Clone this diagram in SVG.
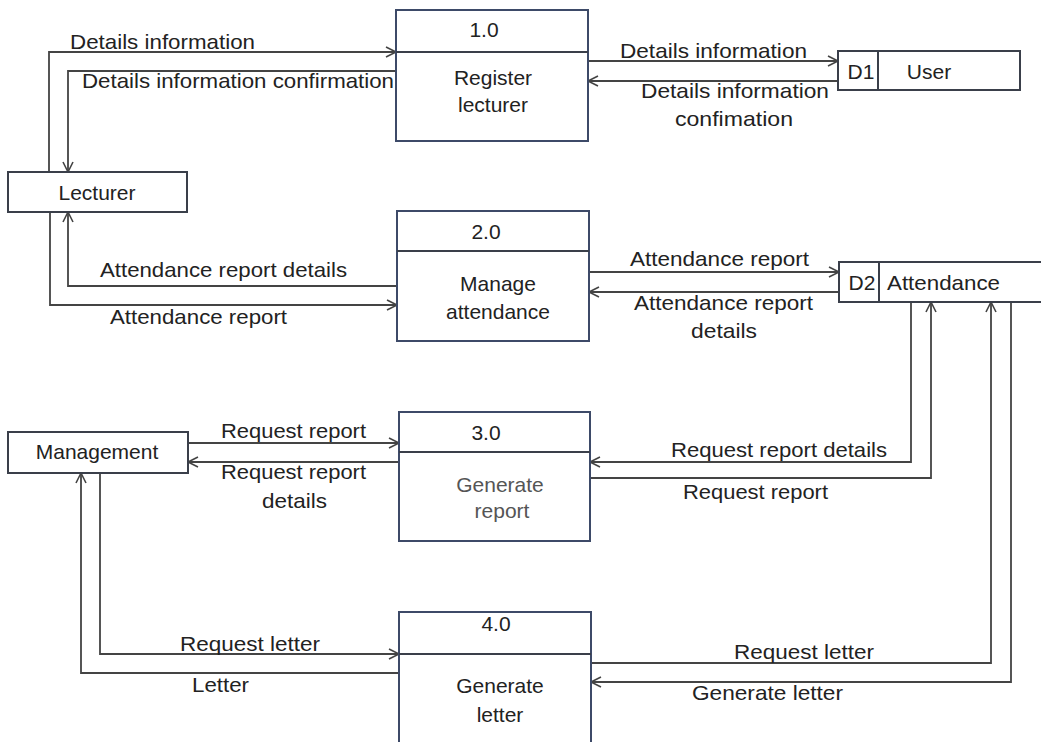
<svg xmlns="http://www.w3.org/2000/svg" width="1041" height="742" viewBox="0 0 1041 742">
<style>
.bg{fill:#fff}
.box{fill:#fff;stroke:#3a3f4a;stroke-width:2}
.proc{fill:#fff;stroke:#3d4a68;stroke-width:2}
.div{stroke:#3a3f4a;stroke-width:2;fill:none}
.t{font-family:"Liberation Sans",Arial,sans-serif;font-size:21px;fill:#222}
.c{text-anchor:middle}
.g{fill:#555}
.ln{fill:none;stroke:#444;stroke-width:1.8;marker-end:url(#ah)}
</style>
<defs>
<marker id="ah" markerUnits="userSpaceOnUse" markerWidth="14" markerHeight="14" refX="11" refY="6" orient="auto">
<path d="M1,1 L11,6 L1,11" fill="none" stroke="#444" stroke-width="1.6"/>
</marker>
</defs>
<rect class="bg" x="0" y="0" width="1041" height="742"/>

<g id="connectors">
<path class="ln" d="M49,172 V52 H396"/>
<path class="ln" d="M396,71 H68 V172"/>
<path class="ln" d="M588,61 H838"/>
<path class="ln" d="M838,81 H588"/>
<path class="ln" d="M397,286 H68 V212"/>
<path class="ln" d="M50,212 V305 H397"/>
<path class="ln" d="M589,272 H839"/>
<path class="ln" d="M839,292 H589"/>
<path class="ln" d="M188,443 H399"/>
<path class="ln" d="M399,462 H188"/>
<path class="ln" d="M911,302 V462 H590"/>
<path class="ln" d="M590,478 H931 V302"/>
<path class="ln" d="M100,473 V654 H399"/>
<path class="ln" d="M399,673 H81 V473"/>
<path class="ln" d="M591,663 H991 V302"/>
<path class="ln" d="M1011,302 V682 H591"/>
</g>

<g id="labels">
<text class="t" x="70" y="49" textLength="185" lengthAdjust="spacingAndGlyphs">Details information</text>
<text class="t" x="82" y="88" textLength="312" lengthAdjust="spacingAndGlyphs">Details information confirmation</text>
<text class="t" x="620" y="58" textLength="187" lengthAdjust="spacingAndGlyphs">Details information</text>
<text class="t" x="641" y="98" textLength="188" lengthAdjust="spacingAndGlyphs">Details information</text>
<text class="t" x="675" y="126" textLength="118" lengthAdjust="spacingAndGlyphs">confimation</text>
<text class="t" x="100" y="277" textLength="247" lengthAdjust="spacingAndGlyphs">Attendance report details</text>
<text class="t" x="110" y="324" textLength="177" lengthAdjust="spacingAndGlyphs">Attendance report</text>
<text class="t" x="630" y="266" textLength="179" lengthAdjust="spacingAndGlyphs">Attendance report</text>
<text class="t" x="634" y="310" textLength="179" lengthAdjust="spacingAndGlyphs">Attendance report</text>
<text class="t" x="691" y="338" textLength="66" lengthAdjust="spacingAndGlyphs">details</text>
<text class="t" x="221" y="438" textLength="145" lengthAdjust="spacingAndGlyphs">Request report</text>
<text class="t" x="221" y="479" textLength="145" lengthAdjust="spacingAndGlyphs">Request report</text>
<text class="t" x="262" y="508" textLength="65" lengthAdjust="spacingAndGlyphs">details</text>
<text class="t" x="671" y="457" textLength="216" lengthAdjust="spacingAndGlyphs">Request report details</text>
<text class="t" x="683" y="499" textLength="145" lengthAdjust="spacingAndGlyphs">Request report</text>
<text class="t" x="180" y="651" textLength="140" lengthAdjust="spacingAndGlyphs">Request letter</text>
<text class="t" x="192" y="692" textLength="57" lengthAdjust="spacingAndGlyphs">Letter</text>
<text class="t" x="734" y="659" textLength="140" lengthAdjust="spacingAndGlyphs">Request letter</text>
<text class="t" x="692" y="700" textLength="151" lengthAdjust="spacingAndGlyphs">Generate letter</text>
</g>

<g id="lecturer">
<rect class="box" x="8" y="172" width="179" height="40"/>
<text class="t c" x="97" y="200">Lecturer</text>
</g>

<g id="management">
<rect class="box" x="8" y="432" width="180" height="41"/>
<text class="t c" x="97" y="459">Management</text>
</g>

<g id="p1">
<rect class="proc" x="396" y="10" width="192" height="131"/>
<line class="div" x1="396" y1="52" x2="588" y2="52"/>
<text class="t c" x="484" y="37">1.0</text>
<text class="t c" x="493" y="85">Register</text>
<text class="t c" x="493" y="112">lecturer</text>
</g>

<g id="p2">
<rect class="proc" x="397" y="211" width="192" height="130"/>
<line class="div" x1="397" y1="251" x2="589" y2="251"/>
<text class="t c" x="486" y="239">2.0</text>
<text class="t c" x="498" y="291">Manage</text>
<text class="t c" x="498" y="319">attendance</text>
</g>

<g id="p3">
<rect class="proc" x="399" y="412" width="191" height="129"/>
<line class="div" x1="399" y1="452" x2="590" y2="452"/>
<text class="t c" x="486" y="440">3.0</text>
<text class="t c g" x="500" y="492">Generate</text>
<text class="t c g" x="502" y="518">report</text>
</g>

<g id="p4">
<rect class="proc" x="399" y="612" width="192" height="140"/>
<line class="div" x1="399" y1="654" x2="591" y2="654"/>
<text class="t c" x="496" y="631">4.0</text>
<text class="t c" x="500" y="693">Generate</text>
<text class="t c" x="500" y="722">letter</text>
</g>

<g id="d1">
<rect class="box" x="838" y="51" width="182" height="39"/>
<line class="div" x1="878" y1="51" x2="878" y2="90"/>
<text class="t c" x="861" y="79">D1</text>
<text class="t c" x="929" y="79">User</text>
</g>

<g id="d2">
<rect class="box" x="839" y="262" width="210" height="40"/>
<line class="div" x1="879" y1="262" x2="879" y2="302"/>
<text class="t c" x="862" y="290">D2</text>
<text class="t" x="887" y="290" textLength="113" lengthAdjust="spacingAndGlyphs">Attendance</text>
</g>
</svg>
